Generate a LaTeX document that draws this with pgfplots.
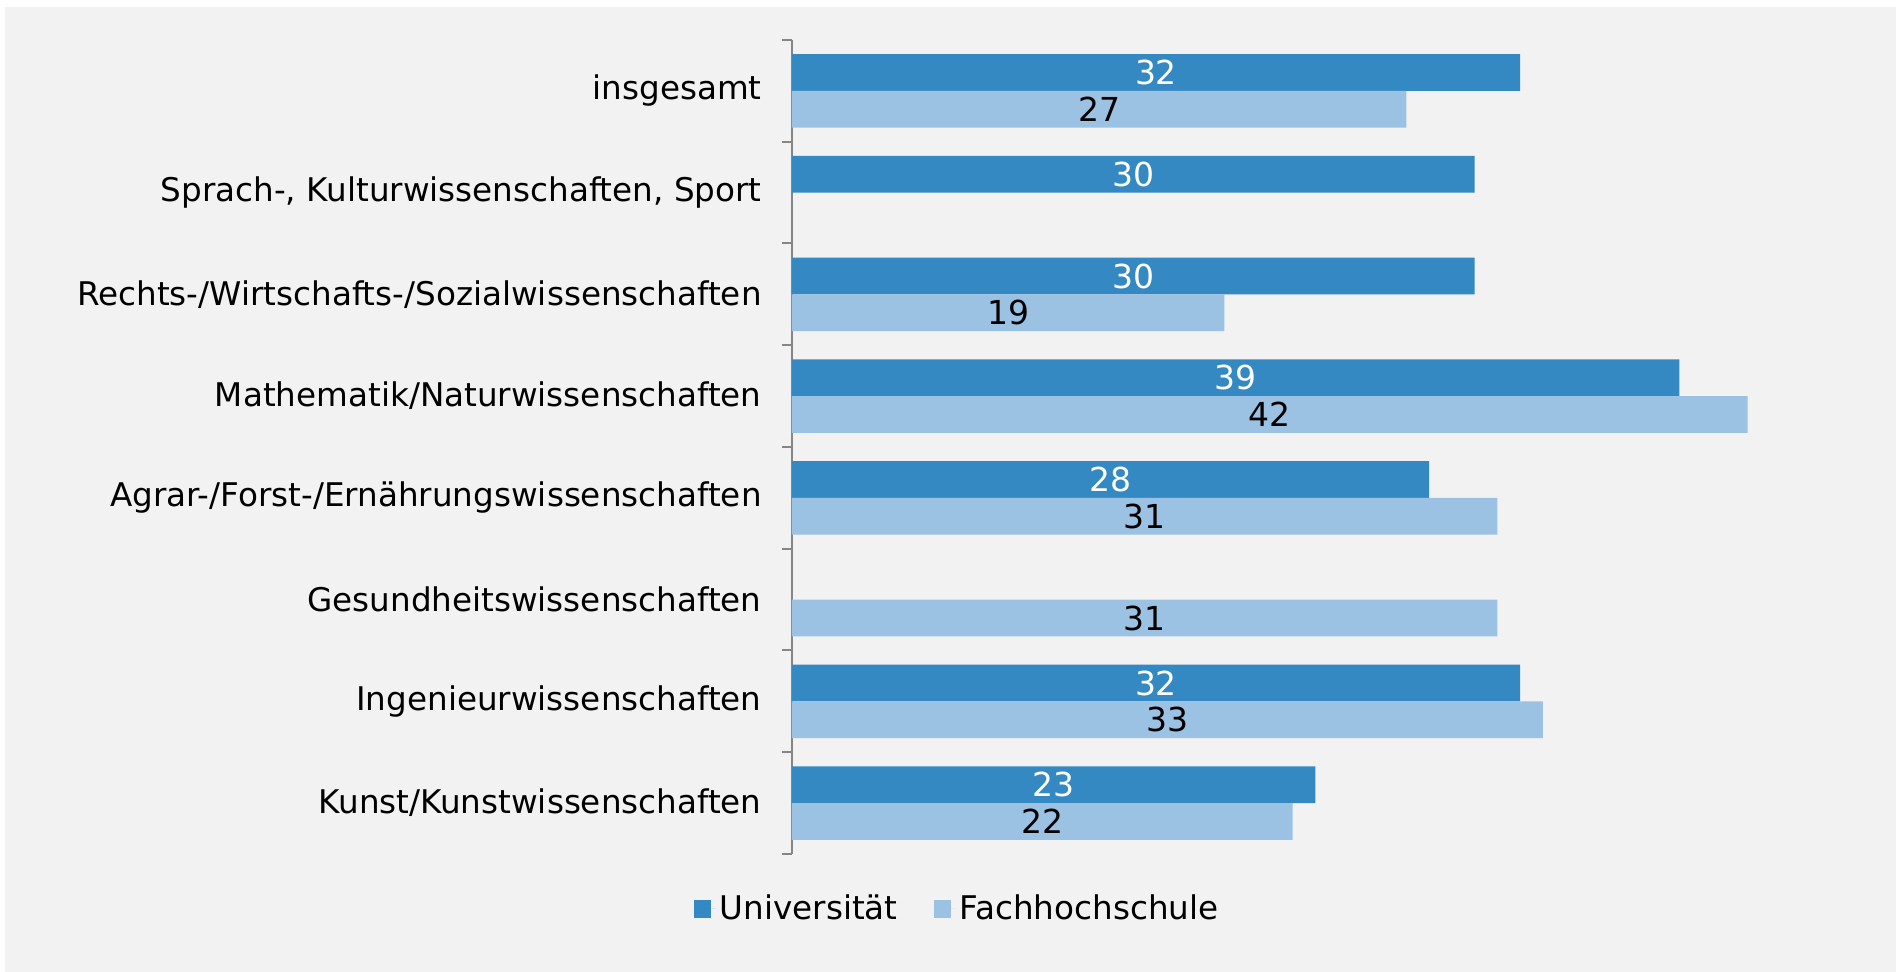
\documentclass[border=0pt]{standalone}
\usepackage{pgfplots}
\usepackage{pgfplotstable}
\pgfplotsset{compat=1.18}
\usepackage{fontspec}
\setmainfont{DejaVu Sans}

\definecolor{uni}{RGB}{52,137,194}
\definecolor{fh}{RGB}{155,194,227}
\definecolor{bg}{RGB}{242,242,242}
\definecolor{axgray}{RGB}{134,134,134}

% pos: 7 = top category
\pgfplotstableread{
pos uni fh
7 32 27
6 30 nan
5 30 19
4 39 42
3 28 31
2 nan 31
1 32 33
0 23 22
}\data

\begin{document}
\begin{tikzpicture}
\fill[white] (0,0) rectangle (948pt,486pt);
\fill[bg] (2.5pt,0) rectangle (948pt,482.5pt);
\begin{axis}[
    at={(396pt,59pt)}, anchor=south west,
    x=11.375pt, y=50.875pt,
    xmin=0, xmax=48, ymin=-0.5, ymax=7.5,
    axis x line=none,
    axis y line*=left,
    y axis line style={draw=axgray, line width=1pt},
    ytick={0,...,7},
    yticklabels={Kunst/Kunstwissenschaften, Ingenieurwissenschaften, Gesundheitswissenschaften, Agrar-/Forst-/Ernährungswissenschaften, Mathematik/Naturwissenschaften, Rechts-/Wirtschafts-/Sozialwissenschaften, {Sprach-, Kulturwissenschaften, Sport}, insgesamt},
    major tick length=0pt,
    tick align=outside,
    extra y ticks={-0.5,0.5,...,7.5},
    extra y tick labels={},
    extra y tick style={major tick length=5pt, tick style={draw=axgray, line width=1pt}},
    yticklabel style={font=\fontsize{16.3}{19}\selectfont, anchor=east, inner sep=0pt, xshift=-15pt},
    /pgf/number format/assume math mode=true,
    clip=false,
    legend style={at={(axis cs:7.3,-1.04)}, anchor=center, draw=none, fill=none,
        font=\fontsize{16.3}{19}\selectfont, legend columns=2,
        /tikz/every even column/.append style={column sep=16pt},
        inner sep=0pt},
    legend cell align=left,
    legend image code/.code={\fill[#1] (0pt,-4.5pt) rectangle (8.5pt,4.5pt); \path (0pt,0pt) -- (11pt,0pt);},
]
\addplot[xbar, fill=uni, draw=none, bar width=18.375pt, bar shift=9.1875pt] table[x=uni, y=pos] {\data};
\addlegendentry{Universität}
\addplot[xbar, fill=fh, draw=none, bar width=18.375pt, bar shift=-9.1875pt] table[x=fh, y=pos] {\data};
\addlegendentry{Fachhochschule}

\addplot[forget plot, draw=none, mark=none, nodes near coords, point meta=explicit,
    every node near coord/.append style={anchor=center, yshift=9.1875pt, text=white, font=\fontsize{16.5}{19}\selectfont}]
    table[x expr=\thisrow{uni}/2, y=pos, meta=uni] {\data};
\addplot[forget plot, draw=none, mark=none, nodes near coords, point meta=explicit,
    every node near coord/.append style={anchor=center, yshift=-9.1875pt, text=black, font=\fontsize{16.5}{19}\selectfont}]
    table[x expr=\thisrow{fh}/2, y=pos, meta=fh] {\data};
\end{axis}
\pgfresetboundingbox
\path[use as bounding box] (0,0) rectangle (948pt,486pt);
\end{tikzpicture}
\end{document}
